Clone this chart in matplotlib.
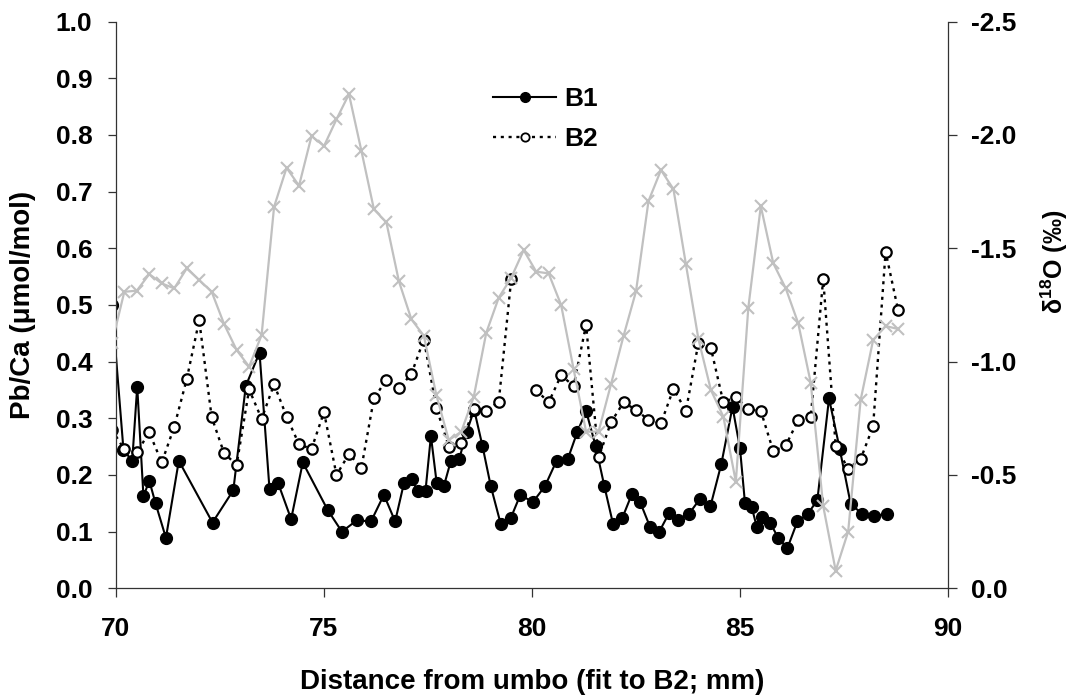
import numpy as np
import matplotlib
matplotlib.use('Agg')
import matplotlib.pyplot as plt
from matplotlib.lines import Line2D
from matplotlib.ticker import FormatStrFormatter

plt.rcParams['font.family'] = ['Liberation Sans', 'DejaVu Sans']
plt.rcParams['font.weight'] = 'bold'
plt.rcParams['axes.unicode_minus'] = False
plt.rcParams['mathtext.fontset'] = 'custom'
plt.rcParams['mathtext.rm'] = 'Liberation Sans:bold'
plt.rcParams['mathtext.bf'] = 'Liberation Sans:bold'

# B1 Pb/Ca (umol/mol)
b1_x = [69.9, 70.18, 70.39, 70.51, 70.66, 70.80, 70.95, 71.20, 71.51, 72.32,
        72.82, 73.12, 73.45, 73.69, 73.90, 74.21, 74.49, 75.09, 75.43, 75.79,
        76.13, 76.44, 76.71, 76.92, 77.11, 77.25, 77.44, 77.57, 77.71, 77.88,
        78.05, 78.25, 78.43, 78.61, 78.81, 79.01, 79.25, 79.49, 79.72, 80.02,
        80.31, 80.59, 80.86, 81.09, 81.30, 81.53, 81.74, 81.95, 82.17, 82.40,
        82.60, 82.84, 83.06, 83.29, 83.52, 83.77, 84.03, 84.29, 84.55, 84.82,
        85.00, 85.12, 85.28, 85.40, 85.52, 85.72, 85.92, 86.14, 86.38, 86.63,
        86.86, 87.14, 87.40, 87.66, 87.94, 88.22, 88.53]
b1_y = [0.50, 0.244, 0.225, 0.356, 0.162, 0.190, 0.150, 0.089, 0.225, 0.116,
        0.173, 0.357, 0.416, 0.175, 0.185, 0.122, 0.222, 0.138, 0.100, 0.120,
        0.118, 0.165, 0.118, 0.185, 0.193, 0.171, 0.172, 0.269, 0.185, 0.180,
        0.225, 0.228, 0.276, 0.315, 0.251, 0.180, 0.113, 0.124, 0.165, 0.152,
        0.180, 0.225, 0.228, 0.276, 0.313, 0.251, 0.180, 0.113, 0.124, 0.166,
        0.152, 0.108, 0.100, 0.132, 0.120, 0.131, 0.157, 0.145, 0.219, 0.320,
        0.247, 0.150, 0.144, 0.109, 0.125, 0.116, 0.089, 0.071, 0.118, 0.131,
        0.156, 0.335, 0.245, 0.149, 0.131, 0.128, 0.131]

# B2 and d18O share the same sampling positions
b2_x = [69.9, 70.2, 70.5, 70.8, 71.1, 71.4, 71.7, 72.0, 72.3, 72.6, 72.9,
        73.2, 73.5, 73.8, 74.1, 74.4, 74.7, 75.0, 75.3, 75.6, 75.9, 76.2,
        76.5, 76.8, 77.1, 77.4, 77.7, 78.0, 78.3, 78.6, 78.9, 79.2, 79.5,
        79.8, 80.1, 80.4, 80.7, 81.0, 81.3, 81.6, 81.9, 82.2, 82.5, 82.8,
        83.1, 83.4, 83.7, 84.0, 84.3, 84.6, 84.9, 85.2, 85.5, 85.8, 86.1,
        86.4, 86.7, 87.0, 87.3, 87.6, 87.9, 88.2, 88.5, 88.8]
b2_y = [0.28, 0.245, 0.240, 0.275, 0.222, 0.285, 0.369, 0.473, 0.302, 0.238, 0.218,
        0.351, 0.299, 0.360, 0.303, 0.254, 0.246, 0.311, 0.200, 0.237, 0.213, 0.335,
        0.368, 0.353, 0.378, 0.439, 0.319, 0.250, 0.256, 0.316, 0.313, 0.329, 0.545,
        np.nan, 0.350, 0.328, 0.376, 0.357, 0.465, 0.231, 0.293, 0.328, 0.315, 0.297,
        0.291, 0.352, 0.313, 0.433, 0.424, 0.328, 0.338, 0.316, 0.313, 0.242, 0.252,
        0.297, 0.302, 0.546, 0.251, 0.211, 0.228, 0.286, 0.594, 0.491]
d18o = [-1.08, -1.308, -1.313, -1.386, -1.345, -1.323, -1.411, -1.360, -1.308, -1.165, -1.051,
        -0.978, -1.117, -1.683, -1.855, -1.776, -1.995, -1.951, -2.069, -2.180, -1.929, -1.672,
        -1.614, -1.355, -1.187, -1.114, -0.853, -0.654, -0.691, -0.845, -1.127, -1.282, -1.370,
        -1.492, -1.397, -1.389, -1.250, -0.967, -0.691, -0.691, -0.901, -1.113, -1.310, -1.708,
        -1.845, -1.761, -1.429, -1.100, -0.875, -0.757, -0.470, -1.238, -1.686, -1.434, -1.323,
        -1.169, -0.907, -0.363, -0.078, -0.250, -0.831, -1.095, -1.157, -1.144]

fig = plt.figure(figsize=(10.72, 6.97), dpi=100)
ax = fig.add_axes([116/1072, 108.7/697, 832/1072, 566.7/697])
ax2 = ax.twinx()

ax.plot(b1_x, b1_y, color='black', lw=1.5, marker='o', ms=8.5, mfc='black', mec='black')
ax.plot(b2_x, b2_y, color='black', lw=1.7, ls=(0, (1.3, 2.0)), marker='o', ms=7.5,
        mfc='white', mec='black', mew=1.6)
ax2.plot(b2_x, d18o, color='#c0c0c0', lw=1.6, marker='x', ms=9, mew=1.5)

ax.set_xlim(70, 90)
ax.set_ylim(0, 1.0)
ax2.set_ylim(0, -2.5)
ax.set_xticks(np.arange(70, 91, 5))
ax.set_yticks(np.arange(0, 1.01, 0.1))
ax2.set_yticks(np.arange(0, -2.51, -0.5))
ax.yaxis.set_major_formatter(FormatStrFormatter('%.1f'))
ax2.yaxis.set_major_formatter(FormatStrFormatter('%.1f'))

for a in (ax, ax2):
    a.spines['top'].set_visible(False)
    for s in a.spines.values():
        s.set_linewidth(0.9)
        s.set_color('#333333')
ax.spines['right'].set_visible(False)
ax2.spines['left'].set_visible(False)
ax2.spines['bottom'].set_visible(False)

ax.tick_params(axis='y', direction='out', length=6, width=0.9, color='#333333', labelsize=19, pad=11)
ax.tick_params(axis='x', direction='out', length=6.5, width=0.9, color='#333333', labelsize=19, pad=14)
ax2.tick_params(axis='y', direction='out', length=6.5, width=0.9, color='#333333', labelsize=19, pad=10)

ax.set_xlabel('Distance from umbo (fit to B2; mm)', fontsize=20, fontweight='bold', labelpad=20)
ax.set_ylabel('Pb/Ca (\u03bcmol/mol)', fontsize=20, fontweight='bold', labelpad=14)
fig.text(1054/1072, 1 - 262/697, '\u03b4$^{\\mathbf{18}}$O (\u2030)', rotation=90,
         fontsize=18, fontweight='bold', ha='center', va='center')

handles = [Line2D([], [], color='black', lw=1.5, marker='o', ms=7, mfc='black'),
           Line2D([], [], color='black', lw=1.7, ls=(0, (1.3, 2.0)), marker='o', ms=6,
                  mfc='white', mec='black', mew=1.3)]
ax2.legend(handles, ['B1', 'B2'], loc='upper left', bbox_to_anchor=(493/1072, 1 - 87/697),
           bbox_transform=fig.transFigure, frameon=False, borderpad=0,
           borderaxespad=0, handlelength=2.4, handletextpad=0.3, labelspacing=0.6,
           prop={'weight': 'bold', 'size': 19})

fig.savefig('out.png', dpi=100)
